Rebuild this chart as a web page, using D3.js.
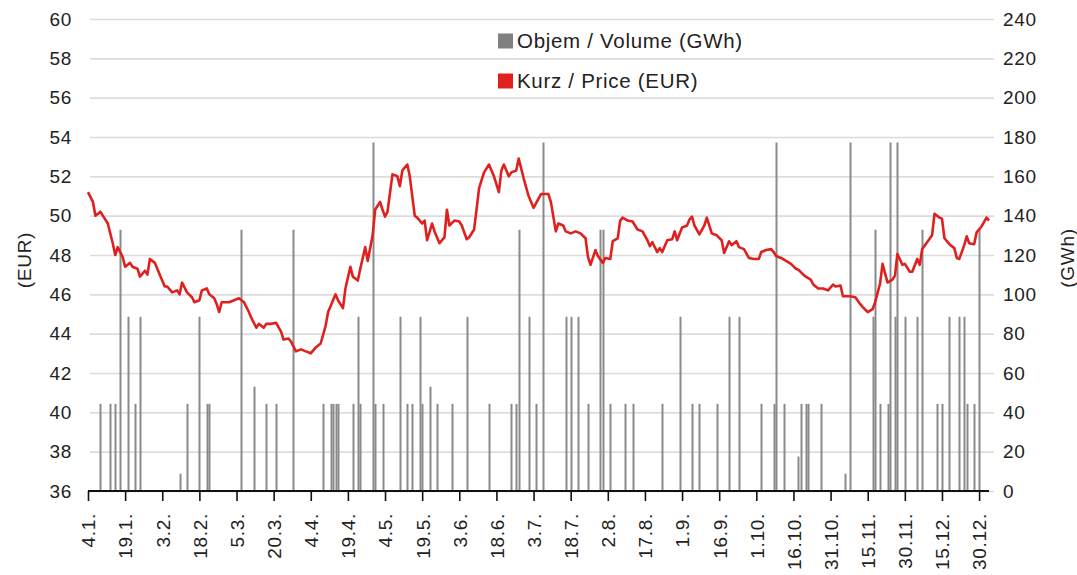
<!DOCTYPE html>
<html>
<head>
<meta charset="utf-8">
<script src="https://cdn.jsdelivr.net/npm/d3@7"></script>
<style>
	body { margin: 0; background: #fff; }
	svg text { font-family: "Liberation Sans", Arial, sans-serif; fill: #222; letter-spacing: 0.7px; }
</style>
</head>
<body>
<div id="chart"></div>
<script>
// day offsets from 4.1. and the price read for that day
var priceDays = [0, 2, 3, 5, 6, 8, 10, 11, 12, 14, 15, 17, 18, 20, 21, 23, 24, 25, 27, 29,
	31, 32, 34, 36, 37, 38, 40, 42, 43, 45, 46, 48, 49, 51, 52, 53, 54, 57, 59, 61,
	63, 65, 66, 68, 69, 71, 72, 74, 76, 78, 79, 81, 82, 84, 86, 88, 90, 92, 94, 96,
	97, 98, 100, 101, 103, 104, 106, 107, 109, 110, 112, 113, 115, 116, 118, 119, 120, 121, 123, 125,
	126, 127, 129, 130, 132, 133, 135, 136, 137, 139, 140, 142, 144, 145, 146, 148, 150, 151, 153, 154,
	156, 158, 160, 162, 164, 166, 167, 168, 170, 171, 173, 174, 176, 178, 180, 183, 184, 186, 187, 189,
	190, 192, 193, 195, 197, 199, 201, 202, 203, 205, 206, 208, 209, 211, 212, 214, 215, 216, 218, 220,
	222, 224, 226, 227, 228, 230, 231, 232, 234, 236, 237, 238, 240, 242, 243, 244, 245, 247, 249, 250,
	252, 254, 256, 257, 259, 260, 262, 263, 265, 267, 269, 271, 272, 274, 276, 277, 278, 280, 282, 284,
	286, 287, 289, 290, 292, 293, 295, 297, 299, 301, 302, 304, 305, 308, 310, 312, 313, 315, 317, 318,
	320, 321, 323, 325, 326, 327, 329, 330, 332, 333, 335, 336, 337, 339, 341, 342, 344, 345, 346, 348,
	350, 351, 352, 354, 355, 356, 358, 359, 361, 363, 364];
var priceValues = [51.2, 50.7, 50.0, 50.2, 50.0, 49.6, 48.6, 48.0, 48.4, 47.9, 47.4, 47.6, 47.4, 47.3, 46.9, 47.2, 47.0, 47.8, 47.6, 47.0,
	46.4, 46.4, 46.1, 46.2, 46.0, 46.6, 46.1, 45.85, 45.6, 45.7, 46.2, 46.3, 46.0, 45.8, 45.5, 45.1, 45.6, 45.6, 45.7, 45.8,
	45.6, 45.1, 44.8, 44.3, 44.5, 44.3, 44.5, 44.5, 44.55, 44.1, 43.7, 43.75, 43.6, 43.1, 43.2, 43.1, 43.0, 43.3, 43.5, 44.4,
	45.1, 45.4, 46.0, 45.7, 45.3, 46.3, 47.4, 46.9, 46.7, 47.3, 48.4, 47.7, 49.0, 50.3, 50.7, 50.3, 49.95, 50.2, 52.1, 52.0,
	51.5, 52.3, 52.6, 52.0, 50.0, 49.9, 49.6, 49.75, 48.75, 49.6, 49.2, 48.6, 48.9, 50.3, 49.5, 49.75, 49.7, 49.5, 48.8, 48.9,
	49.3, 51.4, 52.2, 52.6, 52.0, 51.2, 52.3, 52.6, 52.0, 52.2, 52.3, 52.9, 51.9, 51.0, 50.4, 51.1, 51.1, 51.1, 50.7, 49.2,
	49.6, 49.5, 49.2, 49.1, 49.2, 49.1, 48.85, 47.9, 47.5, 48.25, 47.95, 47.6, 47.85, 47.8, 48.7, 48.85, 49.75, 49.9, 49.75, 49.7,
	49.3, 49.2, 48.75, 48.45, 48.65, 48.15, 48.35, 48.15, 48.75, 48.8, 49.2, 48.75, 49.4, 49.5, 49.8, 49.95, 49.5, 49.05, 49.5, 49.9,
	49.1, 49.0, 48.75, 48.1, 48.7, 48.5, 48.7, 48.4, 48.3, 47.85, 47.8, 47.8, 48.15, 48.25, 48.3, 48.15, 47.95, 47.85, 47.7, 47.55,
	47.3, 47.25, 47.0, 46.9, 46.75, 46.5, 46.3, 46.3, 46.2, 46.5, 46.4, 46.45, 45.9, 45.9, 45.85, 45.5, 45.35, 45.1, 45.25, 45.6,
	46.55, 47.55, 46.6, 46.75, 46.95, 48.05, 47.5, 47.55, 47.15, 47.15, 47.8, 47.5, 48.3, 48.65, 49.0, 50.1, 49.9, 49.85, 48.85, 48.55,
	48.35, 47.85, 47.8, 48.5, 48.95, 48.6, 48.55, 49.15, 49.45, 49.9, 49.75];

// day offsets from 4.1. with a traded volume, and that volume in GWh
var volumeDays = [5, 9, 11, 13, 16, 19, 21, 37, 40, 45, 48, 49, 62, 67, 72, 76, 83, 95, 98, 99,
	100, 101, 107, 109, 110, 115, 116, 119, 126, 129, 131, 134, 135, 138, 141, 147, 153, 162, 171, 173,
	174, 178, 181, 184, 193, 195, 198, 202, 207, 208, 211, 217, 220, 232, 239, 244, 247, 254, 259, 263,
	272, 277, 278, 281, 287, 288, 290, 291, 296, 306, 308, 317, 318, 320, 323, 324, 326, 327, 330, 335,
	337, 343, 345, 348, 352, 354, 355, 358, 360];
var volumeValues = [44.3, 44.3, 44.3, 132.9, 88.6, 44.3, 88.6, 8.8, 44.3, 88.6, 44.3, 44.3, 132.9, 53, 44.3, 44.3, 132.9, 44.3, 44.3, 44.3,
	44.3, 44.3, 44.3, 88.6, 44.3, 177.2, 44.3, 44.3, 88.6, 44.3, 44.3, 88.6, 44.3, 53, 44.3, 44.3, 88.6, 44.3, 44.3, 44.3,
	132.9, 88.6, 44.3, 177.2, 88.6, 88.6, 88.6, 44.3, 132.9, 132.9, 44.3, 44.3, 44.3, 44.3, 88.6, 44.3, 44.3, 44.3, 88.6, 88.6,
	44.3, 44.3, 177.2, 44.3, 17.5, 44.3, 44.3, 44.3, 44.3, 8.8, 177.2, 88.6, 132.9, 44.3, 44.3, 177.2, 88.6, 177.2, 88.6, 88.6,
	132.9, 44.3, 44.3, 88.6, 88.6, 88.6, 44.3, 44.3, 132.9];

var tickLabels = ["4.1.", "19.1.", "3.2.", "18.2.", "5.3.", "20.3.", "4.4.", "19.4.", "4.5.", "19.5.",
	"3.6.", "18.6.", "3.7.", "18.7.", "2.8.", "17.8.", "1.9.", "16.9.", "1.10.", "16.10.",
	"31.10.", "15.11.", "30.11.", "15.12.", "30.12."];
var priceTicks = [36, 38, 40, 42, 44, 46, 48, 50, 52, 54, 56, 58, 60];
var volumeTicks = [0, 20, 40, 60, 80, 100, 120, 140, 160, 180, 200, 220, 240];
var legendLabels = ["Objem / Volume (GWh)", "Kurz / Price (EUR)"];

var year = "2010";

class PriceVolumeChart {
	constructor(id) {
		this.width = 1077;
		this.height = 575;
		this.left = 88;
		this.right = 989;
		this.top = 19;
		this.bottom = 491;

		this.start = new Date(+year, 0, 4);
		this.parseTick = d3.timeParse("%d.%m.%Y");
		this.mapX = d3.scaleTime()
			.domain([this.start, d3.timeDay.offset(this.start, 364)])
			.range([this.left, this.right]);
		this.mapPrice = d3.scaleLinear().domain([36, 60]).range([this.bottom, this.top]);
		this.mapVolume = d3.scaleLinear().domain([0, 240]).range([this.bottom, this.top]);

		this.svg = d3.select(id).append("svg")
			.attr("width", this.width)
			.attr("height", this.height);

		this.drawGrid();
		this.drawVolume();
		this.drawPrice();
		this.drawXAxis();
		this.drawYAxes();
		this.drawLegend();
	}

	day(offset) {
		return d3.timeDay.offset(this.start, offset);
	}

	drawGrid() {
		// light horizontal lines at every price tick
		var g = this.svg.append("g")
			.attr("class", "grid")
			.attr("transform", `translate(${this.right + 5}, 0)`)
			.call(d3.axisRight(this.mapPrice).tickValues(priceTicks).tickSize(-(this.right + 5 - this.left - 2)).tickFormat(""));
		g.select(".domain").remove();
		g.selectAll("line").attr("stroke", "#dcdcdc").attr("stroke-width", 1.6);
	}

	drawVolume() {
		var g = this.svg.append("g").attr("class", "volume");
		volumeDays.forEach((d, i) => {
			var x = Math.round(this.mapX(this.day(d))) + 0.5;
			g.append("line")
				.attr("x1", x)
				.attr("x2", x)
				.attr("y1", this.mapVolume(0))
				.attr("y2", this.mapVolume(volumeValues[i]))
				.attr("stroke", "#8a8a8a")
				.attr("stroke-width", 2);
		});
	}

	drawPrice() {
		var line = d3.line()
			.x((d, i) => this.mapX(this.day(d)))
			.y((d, i) => this.mapPrice(priceValues[i]));
		this.svg.append("path")
			.datum(priceDays)
			.attr("d", line)
			.attr("fill", "none")
			.attr("stroke", "#e0201e")
			.attr("stroke-width", 2.6)
			.attr("stroke-linejoin", "round");
	}

	drawXAxis() {
		var axis = d3.axisBottom(this.mapX)
			.tickValues(tickLabels.map((t) => this.parseTick(t + year)))
			.tickFormat((d, i) => tickLabels[i])
			.tickSize(10);
		var g = this.svg.append("g")
			.attr("class", "xAxis")
			.attr("transform", `translate(0, ${this.bottom})`)
			.call(axis);
		g.select(".domain")
			.attr("stroke", "#111")
			.attr("stroke-width", 2.2)
			.attr("d", `M${this.left},0H${this.right}`);
		g.selectAll(".tick line").attr("stroke", "#111").attr("stroke-width", 1.6);
		g.selectAll(".tick text")
			.attr("font-size", 19)
			.attr("text-anchor", "end")
			.attr("transform", "rotate(-90)")
			.attr("x", -22)
			.attr("y", 0)
			.attr("dy", "0.36em");
	}

	drawYAxes() {
		var left = this.svg.append("g")
			.attr("transform", `translate(${this.left - 16}, 0)`)
			.call(d3.axisLeft(this.mapPrice).tickValues(priceTicks).tickSize(0).tickPadding(0));
		left.select(".domain").remove();
		left.selectAll("text").attr("font-size", 19);

		var right = this.svg.append("g")
			.attr("transform", `translate(${this.right + 14}, 0)`)
			.call(d3.axisRight(this.mapVolume).tickValues(volumeTicks).tickSize(0).tickPadding(0));
		right.select(".domain").remove();
		right.selectAll("text").attr("font-size", 19);

		// axis titles
		this.svg.append("text")
			.text("(EUR)")
			.attr("font-size", 19)
			.attr("text-anchor", "middle")
			.attr("transform", `translate(31, 260) rotate(-90)`);
		this.svg.append("text")
			.text("(GWh)")
			.attr("font-size", 19)
			.attr("text-anchor", "middle")
			.attr("transform", `translate(1074, 258) rotate(-90)`);
	}

	drawLegend() {
		var colors = ["#808080", "#e0201e"];
		var g = this.svg.append("g").attr("class", "legend");
		legendLabels.forEach((label, i) => {
			var y = 41 + i * 40;
			g.append("rect")
				.attr("x", 498)
				.attr("y", y - 7.5)
				.attr("width", 15)
				.attr("height", 15)
				.attr("fill", colors[i]);
			g.append("text")
				.text(label)
				.attr("x", 517)
				.attr("y", y)
				.attr("dy", "0.36em")
				.attr("font-size", 20.5)
				.attr("letter-spacing", 0.5);
		});
	}
}

new PriceVolumeChart("#chart");
</script>
</body>
</html>
